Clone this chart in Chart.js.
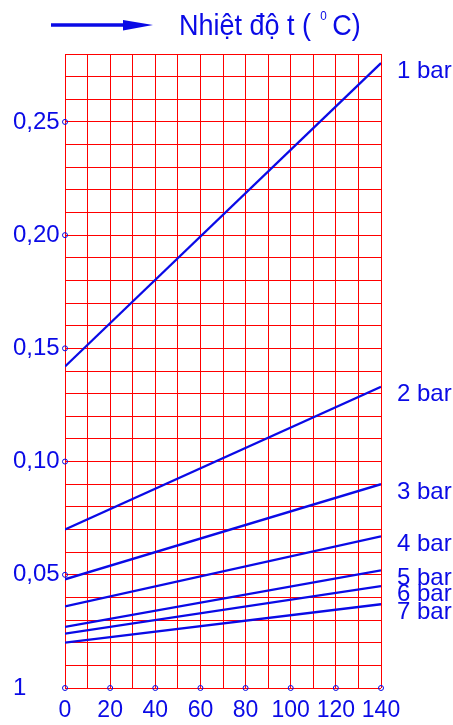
<!DOCTYPE html>
<html>
<head>
<meta charset="utf-8">
<script src="https://cdn.jsdelivr.net/npm/chart.js@4/dist/chart.umd.min.js"></script>
<style>
  html, body { margin: 0; padding: 0; background: #fff; }
  #wrap { width: 453px; height: 725px; }
</style>
</head>
<body>
<div id="wrap"><canvas id="chart"></canvas></div>
<script>
// temperatures (°C) at the two ends of each line
const temps = [0, 140];
const seriesNames = ['1 bar', '2 bar', '3 bar', '4 bar', '5 bar', '6 bar', '7 bar'];
const bar1 = [0.142, 0.276];
const bar2 = [0.070, 0.133];
const bar3 = [0.048, 0.090];
const bar4 = [0.036, 0.067];
const bar5 = [0.027, 0.052];
const bar6 = [0.024, 0.045];
const bar7 = [0.020, 0.037];
const seriesValues = [bar1, bar2, bar3, bar4, bar5, bar6, bar7];

const xTicks = [0, 20, 40, 60, 80, 100, 120, 140];
const yTicks = [0, 0.05, 0.10, 0.15, 0.20, 0.25];
const yTickLabels = ['1', '0,05', '0,10', '0,15', '0,20', '0,25'];
const titleText = 'Nhiệt độ t ( ';
const titleSup = '0';
const titleEnd = 'C)';

const BLUE = '#0a0ae6';
const RED = '#ff0000';
const FONT = '"Liberation Sans", Arial, sans-serif';

const lineSets = seriesValues.map((vals, i) => ({
  label: seriesNames[i],
  data: temps.map((t, j) => ({ x: t, y: vals[j] })),
  borderColor: BLUE,
  borderWidth: 2.3,
  pointRadius: 0,
  fill: false
}));

// hollow markers on the axes at labelled ticks
const markers = {
  label: 'ticks',
  data: xTicks.map(t => ({ x: t, y: 0 })).concat(yTicks.slice(1).map(v => ({ x: 0, y: v }))),
  showLine: false,
  pointRadius: 2.5,
  pointBorderWidth: 1,
  pointBorderColor: BLUE,
  pointBackgroundColor: 'rgba(255,255,255,0)',
  clip: false
};

const decor = {
  id: 'decor',
  afterDatasetsDraw(chart) {
    const ctx = chart.ctx;
    const y = chart.scales.y;
    ctx.save();
    ctx.fillStyle = BLUE;
    ctx.font = '24px ' + FONT;
    ctx.textBaseline = 'middle';
    ctx.textAlign = 'left';
    seriesValues.forEach((vals, i) => {
      const py = y.getPixelForValue(vals[vals.length - 1]);
      ctx.fillText(seriesNames[i], chart.chartArea.right + 16, py + 8);
    });

    // arrow
    ctx.strokeStyle = BLUE;
    ctx.lineWidth = 3.5;
    ctx.beginPath();
    ctx.moveTo(51, 25);
    ctx.lineTo(126, 25);
    ctx.stroke();
    ctx.beginPath();
    ctx.moveTo(123, 20);
    ctx.lineTo(153, 25);
    ctx.lineTo(123, 30.5);
    ctx.closePath();
    ctx.fill();

    // title, slightly condensed
    ctx.textBaseline = 'alphabetic';
    ctx.translate(179, 35);
    ctx.scale(0.9, 1);
    ctx.font = '30px ' + FONT;
    let tx = 0;
    ctx.fillText(titleText, tx, 0);
    tx += ctx.measureText(titleText).width + 2;
    ctx.font = '13px ' + FONT;
    ctx.fillText(titleSup, tx, -15);
    tx += ctx.measureText(titleSup).width + 6;
    ctx.font = '30px ' + FONT;
    ctx.fillText(titleEnd, tx, 0);
    ctx.restore();
  }
};

new Chart(document.getElementById('chart'), {
  type: 'line',
  data: { datasets: lineSets.concat([markers]) },
  options: {
    responsive: true,
    maintainAspectRatio: false,
    animation: false,
    layout: { padding: { top: 54, right: 72, left: 13, bottom: 0 } },
    plugins: { legend: { display: false }, tooltip: { enabled: false } },
    scales: {
      x: {
        type: 'linear',
        min: 0,
        max: 140,
        afterFit: s => { s.height = 37; },
        border: { display: false },
        grid: { color: RED, lineWidth: 1, drawTicks: false },
        ticks: {
          stepSize: 10,
          autoSkip: false,
          maxRotation: 0,
          padding: 9,
          color: BLUE,
          font: { family: FONT, size: 23 },
          callback: v => (xTicks.includes(v) ? String(v) : '')
        }
      },
      y: {
        min: 0,
        max: 0.28,
        afterFit: s => { s.width = 52; },
        border: { display: false },
        grid: { color: RED, lineWidth: 1, drawTicks: false },
        ticks: {
          stepSize: 0.01,
          autoSkip: false,
          crossAlign: 'far',
          padding: 6,
          color: BLUE,
          font: { family: FONT, size: 24 },
          callback: v => {
            const k = Math.round(v * 100);
            return k % 5 === 0 ? yTickLabels[k / 5] : '';
          }
        }
      }
    }
  },
  plugins: [decor]
});
</script>
</body>
</html>
